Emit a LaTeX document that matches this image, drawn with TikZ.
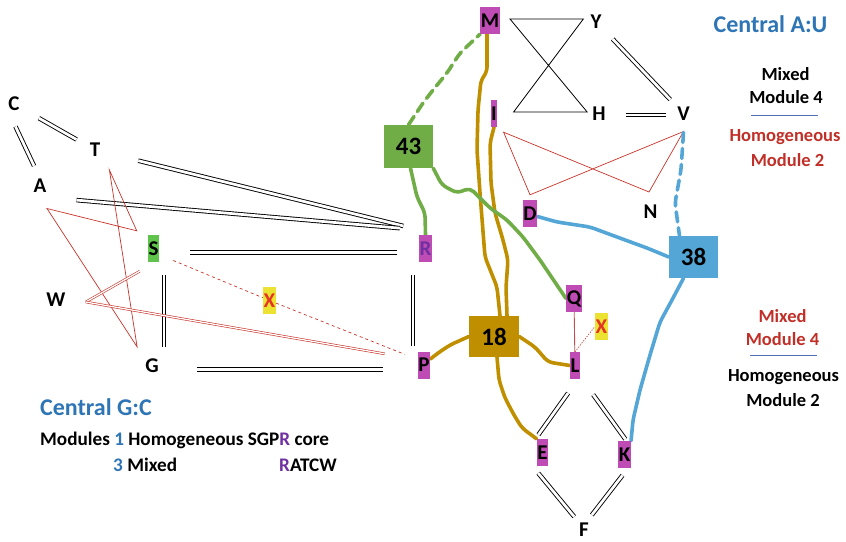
\documentclass[tikz,border=0pt]{standalone}
\usepackage{fontspec}
\setmainfont{Carlito}
\usetikzlibrary{backgrounds}

\definecolor{hubmag}{RGB}{191,76,181}
\definecolor{sgreen}{RGB}{96,196,76}
\definecolor{ngreen}{RGB}{112,173,71}
\definecolor{nblue}{RGB}{84,166,214}
\definecolor{ngold}{RGB}{191,143,0}
\definecolor{xyellow}{RGB}{236,226,50}
\definecolor{xred}{RGB}{228,52,38}
\definecolor{tblue}{RGB}{46,117,182}
\definecolor{tred}{RGB}{192,48,40}
\definecolor{tpurple}{RGB}{112,48,160}
\definecolor{lred}{RGB}{200,50,40}
\definecolor{qlred}{RGB}{192,80,77}
\definecolor{rulebl}{RGB}{80,110,180}

\begin{document}
\begin{tikzpicture}[x=1pt, y=-1pt,
    letter/.style={font=\fontsize{21}{21}\selectfont\bfseries, inner sep=0pt},
    hub/.style={letter, fill=hubmag, inner xsep=0.6pt, inner ysep=0pt, minimum height=27pt},
    xmark/.style={hub, fill=xyellow, text=xred},
    num/.style={font=\fontsize{25}{25}\selectfont\bfseries, inner sep=0pt, minimum width=49pt, minimum height=42pt},
    headline/.style={font=\fontsize{24}{24}\selectfont\bfseries, text=tblue, inner sep=0pt, anchor=base},
    note/.style={font=\fontsize{18.5}{18.5}\selectfont\bfseries, inner sep=0pt, anchor=base},
    pair/.style={draw=black, line width=0.9pt, double=white, double distance=2.7pt},
    redpair/.style={draw=lred, line width=0.6pt, double=white, double distance=1.3pt},
    redline/.style={draw=lred, line width=0.7pt},
    reddash/.style={redline, dash pattern=on 3pt off 3pt},
    goldpath/.style={draw=ngold, line width=3.6pt, rounded corners=5pt, line join=round, line cap=round},
    greenpath/.style={goldpath, draw=ngreen},
    bluepath/.style={goldpath, draw=nblue},
    gapdash/.style={dash pattern=on 10pt off 6pt},
]
\useasboundingbox (0,0) rectangle (846,541);

% plain letters
\node[letter] (C) at (14,104) {C};
\node[letter] (T) at (95,150) {T};
\node[letter] (A) at (40,185.5) {A};
\node[letter] (W) at (56,300) {W};
\node[letter] (G) at (152,366) {G};
\node[letter] (Y) at (596,21.5) {Y};
\node[letter] (H) at (599,113.5) {H};
\node[letter] (V) at (683.5,113.5) {V};
\node[letter] (N) at (650.5,212) {N};
\node[letter] (F) at (584,529.5) {F};

% hubs
\node[hub] (M) at (490,20.5) {M};
\node[hub] (I) at (494,113.5) {I};
\node[hub] (D) at (530,213.5) {D};
\node[hub, text=tpurple] (R) at (425.5,248.5) {R};
\node[hub] (P) at (424,365) {P};
\node[hub] (Q) at (574,298.5) {Q};
\node[hub] (L) at (575,365.5) {L};
\node[hub] (E) at (542.5,452.5) {E};
\node[hub] (K) at (624.5,454.5) {K};
\node[hub, fill=sgreen] (S) at (153.5,248.5) {S};
\node[xmark] (X1) at (269.5,300.5) {X};
\node[xmark] (X2) at (601.5,326.5) {X};

% modules
\node[num, fill=ngreen, minimum height=43pt] (m43) at (408.5,146.5) {43};
\node[num, fill=ngold, minimum width=50pt, minimum height=41pt] (m18) at (494,336.5) {18};
\node[num, fill=nblue] (m38) at (693.5,257) {38};

% right notes
\node[headline] (hAU) at (770.5,32.5) {Central A:U};
\node[note] (tMx1) at (785.5,80) {Mixed};
\node[note] (tMd4a) at (786,103.5) {Module 4};
\draw[rulebl, line width=0.7pt] (751,115) -- (818,115);
\node[note, text=tred] (tHo1) at (785,141.7) {Homogeneous};
\node[note, text=tred] (tMd2a) at (787.5,166.7) {Module 2};

\node[note, text=tred] (tMx2) at (782.5,322.5) {Mixed};
\node[note, text=tred] (tMd4b) at (782.5,345.5) {Module 4};
\draw[rulebl, line width=0.7pt] (750,355.7) -- (817,355.7);
\node[note] (tHo2) at (783.5,381.7) {Homogeneous};
\node[note] (tMd2b) at (783,406.7) {Module 2};

% left notes
\node[headline, anchor=base west] (hGC) at (40,415) {Central G:C};
\node[note, anchor=base west, font=\fontsize{19.2}{19.2}\selectfont\bfseries] (tMods) at (40,445) {Modules {\color{tblue}1} Homogeneous SGP{\color{tpurple}R} core};
\node[note, anchor=base west, font=\fontsize{19.2}{19.2}\selectfont\bfseries] (tMix) at (113,471) {{\color{tblue}3} Mixed};
\node[note, anchor=base west, font=\fontsize{19.2}{19.2}\selectfont\bfseries] (tRat) at (279,471) {{\color{tpurple}R}ATCW};

\begin{scope}[on background layer]
% black pairs
\draw[pair, shorten <=22pt, shorten >=15pt] (C) -- (T);
\draw[pair, shorten <=17pt, shorten >=14pt] (C.south west) -- (A.north);
\draw[pair, shorten <=39pt, shorten >=16pt] (T) -- ([yshift=5pt]R.north west);
\draw[pair, shorten <=30pt, shorten >=19pt] ([yshift=-12pt]A.east) -- ([yshift=5pt]R.north west);
\draw[pair, shorten <=31pt, shorten >=22pt] ([yshift=-4pt]S.east) -- ([yshift=-4pt]R.west);
\draw[pair, shorten <=13pt, shorten >=12pt] ([xshift=10.5pt]S.south) -- ([xshift=12pt]G.north);
\draw[pair, shorten <=38pt, shorten >=35pt] ([yshift=-3.5pt]G.east) -- ([yshift=-4.5pt]P.west);
\draw[pair, shorten <=13pt, shorten >=5pt] ([xshift=-12.5pt]R.south) -- ([xshift=-11pt]P.north);
\draw[pair, shorten <=16pt, shorten >=10pt] (Y) -- (V);
\draw[pair, shorten <=20pt, shorten >=11pt] ([yshift=-1.5pt]H.east) -- ([yshift=-1.5pt]V.west);
\draw[pair, shorten <=17pt, shorten >=5pt] ([xshift=3pt]L.south) -- ([xshift=-7pt]E.north);
\draw[pair, shorten <=19pt, shorten >=2pt] ([xshift=7pt]L.south) -- ([xshift=2pt]K.north);
\draw[pair, shorten <=9pt, shorten >=7.5pt] ([xshift=-10pt]E.south) -- ([xshift=-5pt]F.north);
\draw[pair, shorten <=9pt, shorten >=9.5pt] ([xshift=3.5pt]K.south) -- ([xshift=2pt]F.north);

% bowties
\draw[line width=0.8pt] ([xshift=10pt,yshift=1.5pt]M.east) -- ([xshift=-7pt,yshift=2.5pt]Y.west)
    -- ([xshift=16pt,yshift=1.5pt]I.east) -- ([xshift=-5pt,yshift=1.5pt]H.west) -- cycle;
\draw[redline] ([xshift=6pt,yshift=-5pt]I.south east) -- ([xshift=-1.5pt,yshift=13pt]N.north)
    -- ([yshift=-11pt]V.south) -- ([yshift=5pt]D.north) -- cycle;
\draw[redline] ([xshift=9pt,yshift=-13pt]T.south east) -- ([xshift=-11pt,yshift=4pt]S.north west)
    -- ([xshift=7pt,yshift=-16pt]A.south) -- ([xshift=-8pt,yshift=12pt]G.north west) -- cycle;

% red links
\draw[redpair] ([xshift=20pt,yshift=-2pt]W.east) -- ([xshift=-8pt,yshift=-9pt]S.south west);
\draw[redpair] ([xshift=20pt,yshift=-2pt]W.east) -- ([xshift=-33pt,yshift=-2.5pt]P.north west);
\draw[reddash] ([xshift=14pt,yshift=-12pt]S.east) -- (X1) -- ([xshift=-13pt,yshift=-3pt]P.north west);
\draw[redline, dash pattern=on 1.2pt off 1.5pt] (L.north) -- (X2.west);
\draw[draw=qlred, line width=0.9pt] (Q) -- (L);

% module 18
\draw[goldpath] ([xshift=-3pt]M.south) -- (487,72) -- (481,80) -- (478,110) -- (477,150) -- (480,193)
    -- (485,257) -- (497,287) -- ([xshift=6pt]m18.north);
\draw[goldpath] (I.south) -- (490,143) -- (491,183) -- (495,213) -- (503,240) -- (508,260)
    -- (506,287) -- ([xshift=13pt]m18.north);
\draw[goldpath] (m18.west) -- (450,345) -- (438,353) -- ([yshift=6pt]P.east);
\draw[goldpath] (m18.east) -- (535,347) -- (548,362) -- (L.west);
\draw[goldpath] ([xshift=3pt]m18.south) -- (499,380) -- (505,398) -- (514,415) -- (522,428) -- (E.north west);

% module 43
\draw[greenpath, gapdash] (m43.north) -- (423,103) -- (433,90) -- (447,73) -- (460,53) -- (M.south west);
\draw[greenpath] ([xshift=2pt]m43.south) -- (417,197) -- (425,213) -- (R.north);
\draw[greenpath] (m43.south east) -- (442,185) -- (457,193) -- (470,188) -- (480,198) -- (490,208)
    -- (507,220) -- (523,237) -- (540,260) -- (Q.west);

% module 38
\draw[bluepath] ([yshift=-3pt]D.east) -- (557,222) -- (590,227) -- (617,237) -- (647,248) -- (m38.west);
\draw[bluepath, gapdash] ([yshift=-12pt]V.south) -- (681,170) -- (675,203) -- ([xshift=-14pt]m38.north);
\draw[bluepath] ([xshift=-10pt]m38.south) -- (672,300) -- (660,322) -- (650,355) -- (640,390)
    -- (633,420) -- (K.north east);
\end{scope}
\end{tikzpicture}
\end{document}
